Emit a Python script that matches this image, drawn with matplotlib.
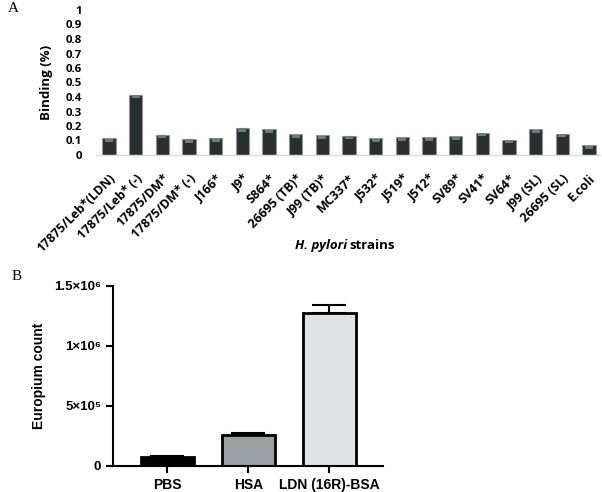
import matplotlib
matplotlib.use("Agg")
import matplotlib.pyplot as plt
import numpy as np

# Panel A data
strains = ["17875/Leb*(LDN)", "17875/Leb* (-)", "17875/DM*", "17875/DM* (-)", "J166*",
           "J9*", "S864*", "26695 (TB)*", "J99 (TB)*", "MC337*", "J532*", "J519*",
           "J512*", "SV89*", "SV41*", "SV64*", "J99 (SL)", "26695 (SL)", "E.coli"]
binding = [0.115, 0.416, 0.140, 0.112, 0.119, 0.188, 0.177, 0.143, 0.136, 0.133,
           0.117, 0.122, 0.122, 0.129, 0.154, 0.106, 0.179, 0.147, 0.067]
a_yticks = [0, 0.1, 0.2, 0.3, 0.4, 0.5, 0.6, 0.7, 0.8, 0.9, 1]
a_yticklabels = ["0", "0.1", "0.2", "0.3", "0.4", "0.5", "0.6", "0.7", "0.8", "0.9", "1"]

# Panel B data
groups = ["PBS", "HSA", "LDN (16R)-BSA"]
europium = [70000, 258000, 1278000]
europium_err = [13000, 17000, 60000]
b_yticks = [0, 500000, 1000000, 1500000]
b_yticklabels = ["0", "5×10⁵", "1×10⁶", "1.5×10⁶"]

FA = "Open Sans"

fig = plt.figure(figsize=(6.02, 4.92), dpi=100)

# ---------- Panel A ----------
axA = fig.add_axes([96/602, 1-155/492, 504/602, 145/492])
x = np.arange(len(strains))
w = 0.5
axA.bar(x, binding, width=w, color="#273032", edgecolor="#8c9496", linewidth=0.8, zorder=2)
hl = 0.022
axA.bar(x, [hl]*len(binding), bottom=[v - hl - 0.004 for v in binding], width=w*0.6,
        color="#6f7a7c", linewidth=0, zorder=3)
axA.set_xlim(-0.49, len(strains) - 0.59)
axA.set_ylim(0, 1)
axA.set_yticks(a_yticks)
axA.set_yticklabels(a_yticklabels, fontfamily=FA, fontweight="bold", fontsize=8.2)
axA.set_xticks(x)
axA.set_xticklabels(strains, rotation=45, ha="right", rotation_mode="anchor",
                    fontfamily=FA, fontweight="bold", fontsize=9)
axA.tick_params(axis="both", length=0)
axA.tick_params(axis="y", pad=10)
axA.tick_params(axis="x", pad=12)
for s in ["top", "right", "left"]:
    axA.spines[s].set_visible(False)
axA.spines["bottom"].set_color("#d9d9d9")
axA.spines["bottom"].set_linewidth(1.0)
axA.set_ylabel("Binding (%)", fontfamily=FA, fontweight="bold", fontsize=9.5, labelpad=9)
fig.text(347/602, 1-245/492, "H. pylori", ha="right", va="center",
         fontfamily=FA, fontweight="bold", fontstyle="italic", fontsize=9.5)
fig.text(349/602, 1-245/492, "strains", ha="left", va="center",
         fontfamily=FA, fontweight="bold", fontsize=9.5)
fig.text(8/602, 1-9/492, "A", fontfamily="Liberation Serif", fontsize=11, ha="left", va="center")

# ---------- Panel B ----------
axB = fig.add_axes([113/602, 1-465.7/492, 270/602, 179.7/492])
xb = np.arange(len(groups))
colors = ["#000000", "#9ba0a4", "#dfe3e5"]
axB.bar(xb, europium, width=0.65, color=colors, edgecolor="black", linewidth=2.0, zorder=2)
axB.errorbar(xb, europium, yerr=[[0]*3, europium_err], fmt="none", ecolor="black",
             elinewidth=1.5, capsize=12, capthick=1.5, zorder=1)
axB.set_xlim(-0.67, 2.66)
axB.set_ylim(0, 1500000)
axB.set_yticks(b_yticks)
axB.set_yticklabels(b_yticklabels, fontfamily=["Liberation Sans", "DejaVu Sans"],
                    fontweight="bold", fontsize=9.5)
axB.set_xticks(xb)
axB.set_xticklabels(groups, fontfamily="Liberation Sans", fontweight="bold", fontsize=10)
axB.tick_params(axis="both", length=5, width=1.5, direction="out")
for s in ["top", "right"]:
    axB.spines[s].set_visible(False)
for s in ["left", "bottom"]:
    axB.spines[s].set_linewidth(1.5)
axB.set_ylabel("Europium count", fontfamily="Liberation Sans", fontweight="bold",
               fontsize=10, labelpad=6)
fig.text(12/602, 1-277/492, "B", fontfamily="Liberation Serif", fontsize=11, ha="left", va="center")

fig.savefig("out.png", dpi=100)
